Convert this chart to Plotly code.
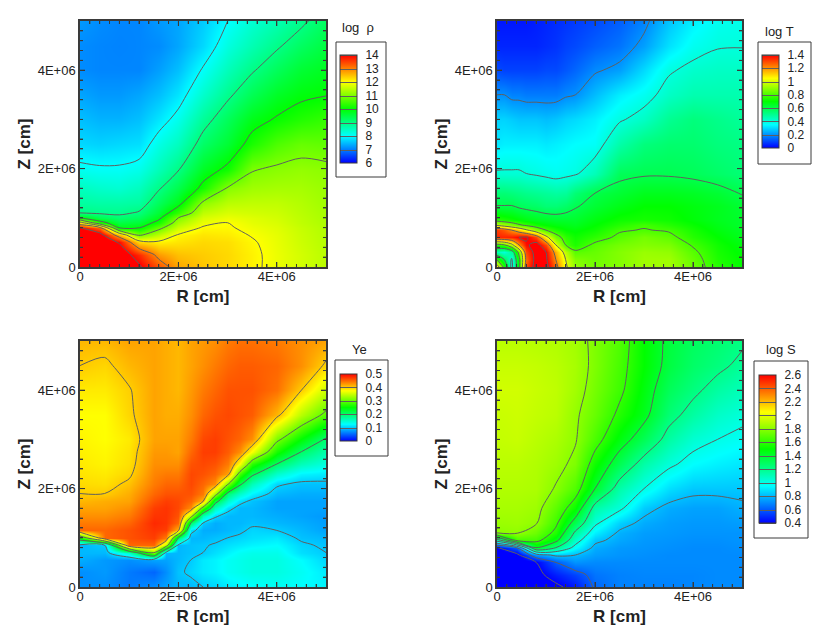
import plotly.graph_objects as go

E6 = 1e6
rho_r = [0, .4, .8, 1.2, 1.6, 2, 2.5, 3, 3.5, 4, 4.5, 5]
rho_z = [0, .25, .5, .65, .8, .9, 1, 1.1, 1.3, 1.6, 2, 2.5, 3, 3.5, 4, 4.5, 5]
rho = [
    [14.8, 14.7, 14.5, 14.1, 13.35, 12.7, 12.45, 12.3, 12.1, 11.85, 11.65, 11.45],
    [14.7, 14.6, 14.4, 13.7, 12.8, 12.5, 12.4, 12.3, 12.1, 11.85, 11.65, 11.45],
    [14.6, 14.4, 13.95, 12.3, 12.1, 12.2, 12.3, 12.25, 12.05, 11.82, 11.6, 11.42],
    [14.5, 14.3, 12.6, 10.9, 11.5, 12.05, 12.2, 12.15, 11.97, 11.8, 11.58, 11.4],
    [14.05, 13.2, 9.9, 9.97, 10.8, 11.6, 12.05, 12.05, 11.88, 11.75, 11.55, 11.38],
    [12.3, 10.3, 9.5, 9.6, 10.2, 11.3, 11.85, 12.0, 11.8, 11.7, 11.5, 11.35],
    [10.0, 9.4, 9.15, 9.3, 9.85, 11.0, 11.7, 11.85, 11.75, 11.65, 11.48, 11.32],
    [9.0, 8.92, 8.9, 9.05, 9.6, 10.4, 11.5, 11.7, 11.65, 11.6, 11.45, 11.3],
    [8.75, 8.7, 8.7, 8.75, 9.3, 9.8, 11.1, 11.45, 11.5, 11.5, 11.4, 11.25],
    [8.5, 8.4, 8.35, 8.5, 8.95, 9.4, 10.15, 11.05, 11.25, 11.3, 11.3, 11.2],
    [8.1, 8.05, 8.05, 8.15, 8.55, 8.95, 9.7, 10.1, 10.95, 11.07, 11.15, 11.1],
    [7.7, 7.65, 7.7, 7.75, 8.2, 8.5, 9.2, 9.6, 10.2, 10.6, 10.8, 10.75],
    [7.5, 7.4, 7.4, 7.5, 7.8, 8.15, 8.8, 9.3, 9.8, 10.05, 10.25, 10.4],
    [7.3, 7.2, 7.2, 7.3, 7.5, 7.8, 8.4, 8.9, 9.35, 9.7, 9.9, 9.98],
    [7.1, 7.05, 7.05, 7.05, 7.25, 7.5, 8.05, 8.55, 8.95, 9.3, 9.6, 9.75],
    [7.1, 7.05, 7.03, 7.05, 7.1, 7.3, 7.7, 8.25, 8.6, 8.93, 9.25, 9.5],
    [7.2, 7.1, 7.05, 7.05, 7.2, 7.3, 7.6, 8.0, 8.35, 8.6, 8.9, 9.25],
]

temp_r = [0, .15, .3, .45, .6, .8, 1, 1.2, 1.4, 1.6, 2, 2.5, 3, 3.5, 4, 4.5, 5]
temp_z = [0, .15, .3, .45, .6, .75, .85, .95, 1.25, 1.5, 1.9, 2.5, 3, 3.5, 4, 4.5, 5]
temp = [
    [1.1, .75, .35, .75, 1.3, 1.45, 1.45, 1.25, 1.02, .9, .86, .88, .92, .92, .85, .75, .7],
    [.8, .6, .38, .75, 1.25, 1.45, 1.42, 1.2, 1.0, .88, .85, .88, .92, .92, .84, .74, .7],
    [.45, .4, .5, .85, 1.3, 1.45, 1.4, 1.15, .95, .82, .84, .88, .91, .9, .82, .73, .69],
    [.75, .8, .95, 1.2, 1.38, 1.45, 1.3, 1.0, .8, .74, .82, .86, .88, .87, .79, .72, .68],
    [1.35, 1.35, 1.36, 1.4, 1.42, 1.3, 1.05, .85, .76, .72, .76, .82, .86, .83, .75, .7, .66],
    [1.32, 1.28, 1.2, 1.12, 1.02, .9, .8, .74, .7, .69, .72, .79, .805, .79, .73, .68, .65],
    [.98, .93, .88, .82, .78, .73, .7, .68, .67, .66, .7, .75, .79, .75, .71, .67, .64],
    [.76, .74, .72, .7, .68, .66, .65, .64, .64, .64, .68, .72, .73, .72, .69, .66, .64],
    [.6, .6, .6, .58, .57, .56, .54, .54, .56, .59, .63, .67, .7, .7, .68, .66, .63],
    [.54, .54, .53, .52, .51, .5, .49, .48, .49, .54, .6, .63, .66, .66, .65, .63, .595],
    [.41, .41, .41, .41, .4, .39, .38, .37, .38, .39, .45, .58, .59, .59, .58, .56, .54],
    [.32, .33, .33, .33, .33, .33, .32, .33, .34, .35, .36, .47, .53, .55, .55, .53, .52],
    [.29, .29, .28, .27, .27, .27, .26, .27, .29, .3, .33, .39, .43, .5, .53, .51, .49],
    [.2, .2, .18, .18, .17, .17, .17, .17, .19, .2, .26, .33, .37, .43, .46, .46, .46],
    [.1, .09, .09, .09, .09, .09, .1, .1, .12, .14, .19, .22, .3, .39, .42, .43, .43],
    [.05, .05, .05, .05, .05, .05, .06, .07, .09, .1, .13, .16, .22, .31, .37, .395, .397],
    [.03, .03, .03, .03, .03, .04, .05, .06, .07, .08, .1, .13, .18, .27, .33, .37, .38],
]

ye_r = [0, .5, 1, 1.5, 1.75, 2, 2.25, 2.5, 2.75, 3, 3.25, 3.5, 4, 4.5, 5]
ye_z = [0, .3, .55, .7, .85, 1, 1.15, 1.3, 1.45, 1.6, 1.75, 1.9, 2.1, 2.3, 2.5, 2.75, 3, 3.5, 4, 4.5, 5]
ye_columns = [
    [.07, .07, .085, .09, .09, .25, .45, .44, .43, .42, .41, .4, .393, .388, .385, .382, .38, .375, .385, .40, .41],
    [.07, .075, .075, .09, .10, .45, .45, .44, .43, .42, .415, .40, .39, .385, .38, .378, .375, .375, .385, .395, .41],
    [.06, .06, .07, .15, .45, .46, .46, .45, .44, .43, .42, .415, .405, .395, .39, .388, .385, .395, .398, .41, .42],
    [.07, .05, .08, .31, .45, .47, .475, .48, .475, .47, .46, .45, .44, .435, .43, .425, .42, .42, .42, .42, .42],
    [.08, .07, .08, .09, .34, .44, .47, .475, .475, .475, .47, .46, .45, .44, .43, .425, .42, .415, .415, .415, .415],
    [.09, .095, .09, .09, .09, .2, .41, .45, .46, .465, .465, .46, .45, .44, .43, .42, .42, .415, .41, .41, .41],
    [.09, .105, .10, .095, .095, .09, .11, .2, .33, .43, .45, .46, .465, .465, .46, .45, .44, .43, .425, .42, .42],
    [.1, .115, .115, .1, .098, .09, .085, .1, .16, .28, .41, .44, .45, .46, .465, .47, .465, .45, .44, .43, .425],
    [.105, .12, .12, .11, .102, .095, .085, .085, .105, .16, .22, .33, .43, .45, .46, .47, .47, .46, .45, .44, .43],
    [.115, .13, .13, .12, .11, .1, .09, .09, .09, .11, .15, .19, .31, .42, .44, .455, .46, .465, .46, .45, .44],
    [.12, .135, .135, .13, .115, .105, .095, .09, .09, .09, .11, .15, .21, .28, .37, .43, .45, .46, .46, .455, .445],
    [.125, .14, .14, .135, .12, .11, .105, .095, .09, .09, .095, .12, .16, .21, .27, .37, .43, .455, .46, .455, .445],
    [.13, .14, .14, .135, .125, .115, .1, .09, .085, .08, .08, .09, .105, .15, .2, .26, .31, .41, .445, .45, .44],
    [.125, .13, .125, .11, .105, .095, .09, .085, .08, .08, .08, .085, .095, .12, .16, .2, .25, .34, .4, .43, .43],
    [.12, .115, .105, .1, .095, .09, .08, .078, .075, .08, .08, .085, .095, .115, .14, .165, .195, .29, .35, .395, .42],
]
ye = [list(row) for row in zip(*ye_columns)]

ent_r = [0, .4, .8, 1.2, 1.6, 2, 2.5, 3, 3.5, 4, 4.5, 5]
ent_z = [0, .25, .5, .65, .8, .95, 1.1, 1.3, 1.6, 2, 2.5, 3, 3.5, 4, 4.5, 5]
ent = [
    [.35, .33, .35, .37, .45, .62, .68, .68, .68, .69, .7, .7],
    [.35, .33, .36, .46, .54, .65, .68, .69, .69, .69, .7, .7],
    [.35, .33, .4, .6, .72, .7, .7, .7, .7, .7, .7, .7],
    [.35, .35, .72, .83, .8, .74, .72, .71, .7, .7, .7, .7],
    [.37, .6, 1.4, 1.2, .95, .77, .73, .72, .71, .7, .7, .71],
    [1.1, 1.65, 1.65, 1.45, 1.07, .83, .76, .73, .72, .71, .71, .72],
    [1.8, 1.81, 1.73, 1.56, 1.17, .92, .78, .74, .73, .72, .72, .72],
    [1.83, 1.84, 1.81, 1.63, 1.33, 1.03, .85, .77, .74, .73, .73, .74],
    [1.86, 1.86, 1.84, 1.7, 1.52, 1.14, 1.03, .84, .77, .75, .75, .78],
    [1.88, 1.88, 1.87, 1.79, 1.67, 1.4, 1.13, 1.0, .88, .83, .83, .83],
    [1.9, 1.9, 1.88, 1.84, 1.77, 1.53, 1.32, 1.14, 1.03, .95, .92, .9],
    [1.92, 1.93, 1.9, 1.87, 1.81, 1.66, 1.47, 1.32, 1.15, 1.05, 1.0, .97],
    [1.93, 1.94, 1.92, 1.9, 1.82, 1.72, 1.57, 1.44, 1.25, 1.15, 1.07, 1.03],
    [1.95, 1.95, 1.93, 1.91, 1.85, 1.75, 1.63, 1.47, 1.31, 1.23, 1.15, 1.1],
    [1.93, 1.93, 1.92, 1.9, 1.86, 1.77, 1.65, 1.5, 1.36, 1.28, 1.23, 1.17],
    [1.9, 1.9, 1.89, 1.88, 1.85, 1.77, 1.67, 1.5, 1.37, 1.3, 1.26, 1.22],
]

rho_ticks = [6, 7, 8, 9, 10, 11, 12, 13, 14]
temp_ticks = [0, .2, .4, .6, .8, 1, 1.2, 1.4]
ye_ticks = [0, .1, .2, .3, .4, .5]
ent_ticks = [.4, .6, .8, 1, 1.2, 1.4, 1.6, 1.8, 2, 2.2, 2.4, 2.6]
axis_ticks = [0, 2, 4]
axis_labels = ["0", "2E+06", "4E+06"]

W, H = 830, 636
RAINBOW = [[0, "#0000ff"], [.25, "#00ffff"], [.5, "#00ff00"], [.75, "#ffff00"], [1, "#ff0000"]]
LINE = "#5f5f5f"
EDGE = "#3a3a3a"
TEXT = "#222222"
FONT = "Liberation Sans"
MAJOR_LEN, MINOR_LEN = 5, 3
SPAN = 5 * E6
STEP = 0.2 * E6

panels = [
    dict(r=rho_r, z=rho_z, v=rho, ticks=rho_ticks, start=7, end=14, size=1, title="log  ρ",
         px=(80, 326), py=(21, 267), strip=(340, 55, 163), box=(336, 42, 386, 177), tt=(358, 28)),
    dict(r=temp_r, z=temp_z, v=temp, ticks=temp_ticks, start=.2, end=1.4, size=.2, title="log T",
         px=(497, 742), py=(21, 267), strip=(762, 55, 148), box=(758, 42, 811, 164), tt=(779, 31)),
    dict(r=ye_r, z=ye_z, v=ye, ticks=ye_ticks, start=.1, end=.4, size=.1, title="Ye",
         px=(80, 326), py=(341, 587), strip=(340, 374, 441), box=(335, 360, 388, 456), tt=(359, 349)),
    dict(r=ent_r, z=ent_z, v=ent, ticks=ent_ticks, start=.4, end=2.4, size=.2, title="log S",
         px=(497, 742), py=(341, 587), strip=(759, 375, 523), box=(754, 361, 808, 538), tt=(781, 349)),
]


def tick_path(width_px, height_px):
    """Inward major and minor ticks on all four sides, in axis units."""
    parts = []
    for k in range(1, 25):
        v = k * STEP
        ln = MAJOR_LEN if k % 10 == 0 else MINOR_LEN
        dx, dy = ln * SPAN / width_px, ln * SPAN / height_px
        parts.append(f"M{v:.0f},0L{v:.0f},{dy:.0f}")
        parts.append(f"M{v:.0f},{SPAN:.0f}L{v:.0f},{SPAN - dy:.0f}")
        parts.append(f"M0,{v:.0f}L{dx:.0f},{v:.0f}")
        parts.append(f"M{SPAN:.0f},{v:.0f}L{SPAN - dx:.0f},{v:.0f}")
    return "".join(parts)


fig = go.Figure()
shapes, annotations = [], []
for i, p in enumerate(panels, start=1):
    sfx = "" if i == 1 else str(i)
    xa, ya = "x" + sfx, "y" + sfx
    fig.add_trace(go.Contour(
        x=[a * E6 for a in p["r"]], y=[a * E6 for a in p["z"]], z=p["v"],
        xaxis=xa, yaxis=ya,
        colorscale=RAINBOW, zauto=False, zmin=p["ticks"][0], zmax=p["ticks"][-1],
        autocontour=False,
        contours=dict(coloring="heatmap", start=p["start"], end=p["end"], size=p["size"], showlines=True),
        line=dict(color=LINE, width=1, smoothing=0.9),
        hoverinfo="skip",
        colorbar=dict(
            x=p["strip"][0] / W, xanchor="left", xpad=0, ypad=0,
            y=1 - p["strip"][2] / H, yanchor="bottom",
            lenmode="pixels", len=p["strip"][2] - p["strip"][1],
            thicknessmode="pixels", thickness=17,
            outlinecolor=EDGE, outlinewidth=1, borderwidth=0,
            tickmode="array", tickvals=p["ticks"], ticktext=[f"{t:g}" for t in p["ticks"]],
            ticks="outside", ticklen=6, tickcolor="rgba(0,0,0,0)",
            tickfont=dict(family=FONT, size=12, color=TEXT),
        ),
    ))
    common = dict(
        range=[0, SPAN], tickmode="array", tickvals=[t * E6 for t in axis_ticks],
        ticktext=axis_labels, ticks="inside", ticklen=MAJOR_LEN, tickwidth=1,
        tickcolor=EDGE, showgrid=False, zeroline=False, showline=True, linecolor=EDGE,
        linewidth=1.5, mirror="ticks", layer="above traces",
        tickfont=dict(family=FONT, size=13, color=TEXT),
        minor=dict(tickmode="linear", tick0=0, dtick=STEP, ticks="inside", ticklen=MINOR_LEN,
                   tickcolor=EDGE, tickwidth=1, showgrid=False),
    )
    fig.update_layout(**{
        "xaxis" + sfx: dict(common, anchor=ya, domain=[p["px"][0] / W, p["px"][1] / W], ticklabelstandoff=-3,
                            title=dict(text="<b>R [cm]</b>", standoff=7, font=dict(family=FONT, size=17, color=TEXT))),
        "yaxis" + sfx: dict(common, anchor=xa, domain=[1 - p["py"][1] / H, 1 - p["py"][0] / H],
                            title=dict(text="<b>Z [cm]</b>", standoff=3, font=dict(family=FONT, size=17, color=TEXT))),
    })
    b = p["box"]
    shapes.append(dict(type="rect", xref="paper", yref="paper", x0=b[0] / W, x1=b[2] / W,
                       y0=1 - b[3] / H, y1=1 - b[1] / H, line=dict(color=EDGE, width=1), fillcolor="white", layer="below"))
    shapes.append(dict(type="path", xref=xa, yref=ya, layer="above",
                       path=tick_path(p["px"][1] - p["px"][0], p["py"][1] - p["py"][0]),
                       line=dict(color=EDGE, width=1)))
    annotations.append(dict(text=p["title"], xref="paper", yref="paper", x=p["tt"][0] / W, y=1 - p["tt"][1] / H,
                            showarrow=False, xanchor="center", yanchor="middle",
                            font=dict(family=FONT, size=13, color=TEXT)))

fig.update_layout(width=W, height=H, margin=dict(l=0, r=0, t=0, b=0, autoexpand=False), autosize=False,
                  paper_bgcolor="white", plot_bgcolor="white", showlegend=False,
                  shapes=shapes, annotations=annotations, font=dict(family=FONT))
fig.write_html("out.html", config={"displayModeBar": False},
               post_script="document.body.style.margin='0';document.body.style.overflow='hidden';")
